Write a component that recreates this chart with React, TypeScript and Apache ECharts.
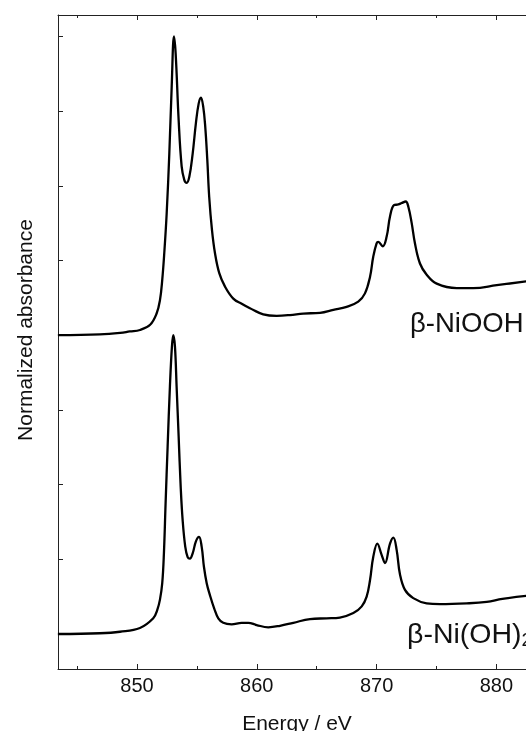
import React, { useEffect, useRef } from "react";
import * as echarts from "echarts";

// Energy (eV) and normalized absorbance for beta-NiOOH (offset curve)
const nioohEnergy = [
  843.4, 846.9, 848.6, 849.4, 850.25, 851.1, 851.64, 851.92, 852.11, 852.28, 852.48, 852.7, 852.9,
  853.09, 853.23, 853.48, 853.73, 853.95, 854.15, 854.37, 854.65, 854.92, 855.15, 855.34, 855.53,
  855.7, 855.87, 856.03, 856.26, 856.51, 856.87, 857.35, 858.04, 858.74, 859.43, 860.54, 861.66,
  862.77, 863.88, 865.28, 866.39, 867.5, 868.47, 869.03, 869.45, 869.72, 870.0, 870.14, 870.51,
  870.84, 871.12, 871.45, 871.81, 872.1, 872.43, 872.65, 872.93, 873.2, 873.62, 874.18, 875.02,
  876.69, 878.07, 880.03, 882.5,
];
const nioohAbs = [
  4.0, 4.01, 4.03, 4.05, 4.07, 4.14, 4.29, 4.47, 4.74, 5.1, 5.63, 6.43, 7.33,
  8.0, 7.77, 6.88, 6.26, 6.08, 6.04, 6.12, 6.43, 6.84, 7.1, 7.18, 7.06,
  6.79, 6.35, 5.85, 5.41, 5.1, 4.83, 4.65, 4.49, 4.42, 4.36, 4.28, 4.26,
  4.27, 4.29, 4.3, 4.34, 4.38, 4.45, 4.56, 4.78, 5.05, 5.23, 5.25, 5.19,
  5.32, 5.59, 5.74, 5.75, 5.77, 5.79, 5.72, 5.5, 5.23, 4.96, 4.81, 4.69,
  4.63, 4.63, 4.67, 4.72,
];

// Energy (eV) and normalized absorbance for beta-Ni(OH)2
const nioh2Energy = [
  843.4, 846.9, 848.58, 850.25, 851.36, 851.69, 851.92, 852.11, 852.25, 852.39, 852.56, 852.75,
  852.92, 853.03, 853.17, 853.31, 853.48, 853.65, 853.81, 854.03, 854.23, 854.42, 854.65, 854.92,
  855.18, 855.4, 855.59, 855.82, 856.09, 856.45, 856.79, 857.2, 857.9, 858.74, 859.29, 859.99,
  860.96, 861.94, 863.05, 864.44, 865.83, 866.94, 868.06, 868.76, 869.17, 869.45, 869.72, 870.06,
  870.42, 870.7, 871.12, 871.4, 871.68, 871.95, 872.37, 873.06, 874.18, 875.29, 877.52, 879.19,
  880.5, 882.5,
];
const nioh2Abs = [
  0.0, 0.01, 0.03, 0.08, 0.21, 0.32, 0.46, 0.68, 1.08, 1.75, 2.51, 3.31,
  3.85, 4.0, 3.85, 3.31, 2.64, 1.97, 1.53, 1.17, 1.03, 1.01, 1.08, 1.24,
  1.3, 1.17, 0.9, 0.68, 0.52, 0.34, 0.21, 0.15, 0.13, 0.15, 0.15, 0.12,
  0.09, 0.11, 0.15, 0.2, 0.21, 0.22, 0.28, 0.37, 0.5, 0.72, 1.03, 1.21,
  1.06, 0.95, 1.21, 1.29, 1.12, 0.8, 0.59, 0.48, 0.41, 0.4, 0.41, 0.43,
  0.47, 0.51,
];

const xMajorTicks = [850, 860, 870, 880];
const xMinorTicks = [845, 855, 865, 875];
const yTicks = [0, 1, 2, 3, 4, 5, 6, 7, 8];

const FONT = '"Liberation Sans", Arial, Helvetica, sans-serif';
const X_MIN = 843.41;
const X_MAX = 882.47;
const Y_MIN = -0.4685;
const Y_MAX = 8.2865;

function pairs(xs: number[], ys: number[]) {
  return xs.map((x, i) => [x, ys[i]]);
}

export default function App() {
  const ref = useRef<HTMLDivElement>(null);
  useEffect(() => {
    if (!ref.current) return;
    const chart = echarts.init(ref.current, null, { renderer: "svg" });
    const axisColor = "#222";
    const mkX = (position: string, ticks: number[], len: number, showLine: boolean, showLabel: boolean) => ({
      type: "value",
      position,
      min: X_MIN,
      max: X_MAX,
      axisLine: { show: showLine, onZero: false, lineStyle: { color: axisColor, width: 1 } },
      axisTick: { show: true, inside: true, length: len, customValues: ticks, lineStyle: { color: axisColor, width: 1 } },
      axisLabel: {
        show: showLabel,
        customValues: ticks,
        fontSize: 20,
        color: "#111",
        margin: 6,
        fontFamily: FONT,
      },
      splitLine: { show: false },
    });
    chart.setOption({
      animation: false,
      grid: { left: 58, top: 15, right: 0, bottom: 62, containLabel: false },
      xAxis: [
        mkX("bottom", xMajorTicks, 5, true, true),
        mkX("bottom", xMinorTicks, 3, false, false),
        mkX("top", xMajorTicks, 5, true, false),
        mkX("top", xMinorTicks, 3, false, false),
      ],
      yAxis: {
        type: "value",
        min: Y_MIN,
        max: Y_MAX,
        axisLine: { show: true, onZero: false, lineStyle: { color: axisColor, width: 1 } },
        axisTick: { show: true, inside: true, length: 5, customValues: yTicks, lineStyle: { color: axisColor, width: 1 } },
        axisLabel: { show: false },
        splitLine: { show: false },
      },
      series: [
        {
          type: "line",
          xAxisIndex: 0,
          data: pairs(nioohEnergy, nioohAbs),
          symbol: "none",
          smooth: 0.4,
          lineStyle: { color: "#000", width: 2.3 },
        },
        {
          type: "line",
          xAxisIndex: 0,
          data: pairs(nioh2Energy, nioh2Abs),
          symbol: "none",
          smooth: 0.4,
          lineStyle: { color: "#000", width: 2.3 },
        },
      ],
      graphic: [
        {
          type: "text",
          x: 24,
          y: 330,
          rotation: Math.PI / 2,
          style: { text: "Normalized absorbance", fontSize: 21, fontFamily: FONT, fill: "#111", align: "center", verticalAlign: "middle" },
        },
        {
          type: "text",
          x: 297,
          y: 722,
          style: { text: "Energy / eV", fontSize: 21, fontFamily: FONT, fill: "#111", align: "center", verticalAlign: "middle" },
        },
        {
          type: "text",
          x: 410,
          y: 322,
          style: { text: "β-NiOOH", fontSize: 27.5, fontFamily: FONT, fill: "#111", align: "left", verticalAlign: "middle" },
        },
        {
          type: "text",
          x: 407,
          y: 633,
          style: {
            text: "{m|β-Ni(OH)}{s|2}",
            align: "left",
            verticalAlign: "middle",
            rich: {
              m: { fontSize: 28.5, fontFamily: FONT, fill: "#111" },
              s: { fontSize: 19, fontFamily: FONT, fill: "#111", padding: [12, 0, 0, 0] },
            },
          },
        },
      ],
    });
    return () => chart.dispose();
  }, []);
  return <div ref={ref} style={{ position: "fixed", left: 0, top: 0, width: 526, height: 731 }} />;
}
